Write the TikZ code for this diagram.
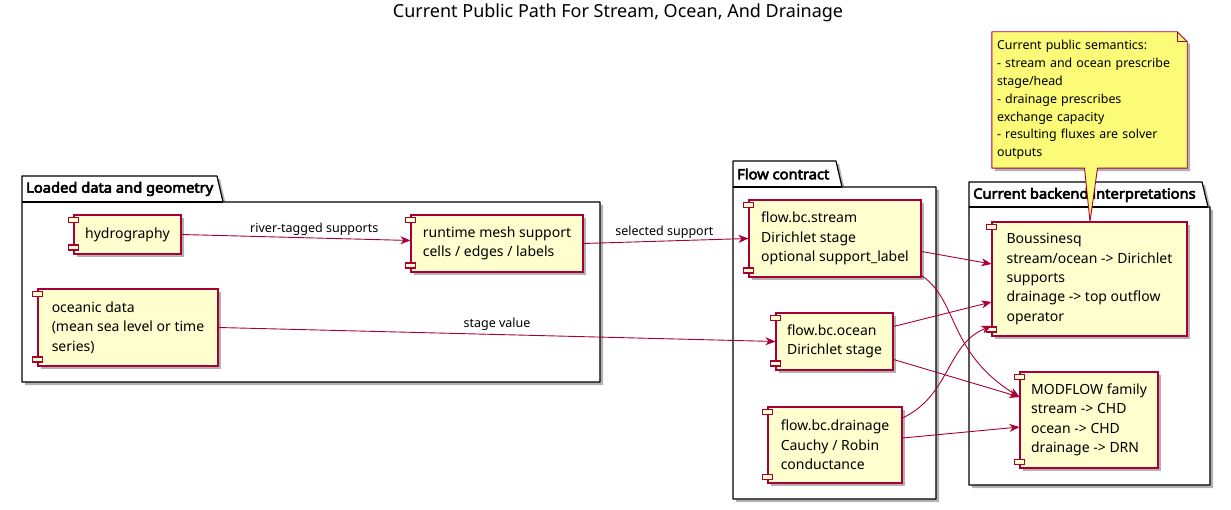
\documentclass[tikz,border=0pt]{standalone}
\usepackage{fontspec}
\setmainfont{Noto Sans}
\newfontfamily\pkgfont{Noto Sans}[FakeBold=4, FakeStretch=1.05]
\usepackage{tikz}
\usetikzlibrary{arrows.meta,shadows}

\definecolor{umlred}{HTML}{A80036}
\definecolor{umlfill}{HTML}{FEFECE}
\definecolor{notefill}{HTML}{FBFB77}

\tikzset{
  shade3/.style={drop shadow={shadow xshift=3pt, shadow yshift=-3pt, opacity=0.3, fill=black}},
  comp/.style={draw=umlred, fill=umlfill, line width=1.1pt, align=left, inner sep=0pt,
               font=\fontsize{14}{19.4}\selectfont, shade3},
  compicon/.style={draw=umlred, fill=umlfill, line width=1.1pt},
  pkg/.style={draw=black, fill=white, line width=1.2pt, line join=round, shade3},
  pkgtitle/.style={font=\pkgfont\fontsize{14}{16}\selectfont, anchor=west, inner sep=0pt},
  flow/.style={draw=umlred, line width=0.9pt, -{Stealth[length=10pt, width=8pt, inset=3pt]}},
  lbl/.style={font=\fontsize{12.5}{15}\selectfont, anchor=south, inner sep=2pt, text=black},
}

\begin{document}
\begin{tikzpicture}[x=1pt, y=-1pt]
  \useasboundingbox (0,0) rectangle (1231,510);
  \node[font=\fontsize{18}{22}\selectfont] (title) at (618,13) {Current Public Path For Stream, Ocean, And Drainage};

  % packages
  \draw[pkg] (22,176) -- (217,176) -- (223,202) -- (600,202) -- (600,382) -- (22,382) -- cycle;
  \draw[line width=1.2pt] (22,202) -- (223,202);
  \node[pkgtitle] (pkgload) at (26,189) {Loaded data and geometry};

  \draw[pkg] (733,161) -- (836,161) -- (842,187) -- (936,187) -- (936,499) -- (733,499) -- cycle;
  \draw[line width=1.2pt] (733,187) -- (842,187);
  \node[pkgtitle] (pkgflow) at (737,174) {Flow contract};

  \draw[pkg] (969,182) -- (1202,182) -- (1208,207) -- (1210,207) -- (1210,485) -- (969,485) -- cycle;
  \draw[line width=1.2pt] (969,207) -- (1208,207);
  \node[pkgtitle] (pkgback) at (973,195) {Current backend interpretations};

  % components
  \node[comp, minimum width=107, minimum height=39] (hydro) at (127.5,234.5) {hydrography};
  \node[comp, minimum width=172, minimum height=57] (mesh) at (497,243.5) {runtime mesh support\\cells / edges / labels};
  \node[comp, minimum width=180, minimum height=77] (ocdata) at (128,327.5) {oceanic data\\(mean sea level or time\\series)};
  \node[comp, minimum width=172, minimum height=77] (stream) at (835,238.5) {flow.bc.stream\\Dirichlet stage\\optional support\_label};
  \node[comp, minimum width=117, minimum height=57] (ocean) at (834.5,341.5) {flow.bc.ocean\\Dirichlet stage};
  \node[comp, minimum width=134, minimum height=76] (drain) at (835,445) {flow.bc.drainage\\Cauchy / Robin\\conductance};
  \node[comp, minimum width=195, minimum height=114] (bous) at (1089.5,279) {Boussinesq\\stream/ocean -> Dirichlet\\supports\\drainage -> top outflow\\operator};
  \node[comp, minimum width=138, minimum height=96] (modflow) at (1089,420) {MODFLOW family\\stream -> CHD\\ocean -> CHD\\drainage -> DRN};

  \foreach \n in {hydro,mesh,ocdata,stream,ocean,drain,bous,modflow} {
    \draw[compicon] ([xshift=-5pt,yshift=-3pt]\n.north west) rectangle ++(10,5);
    \draw[compicon] ([xshift=-5pt,yshift=4.5pt]\n.south west) rectangle ++(10,-5);
  }

  % connectors
  \draw[flow] (hydro.east) -- node[lbl, pos=0.58] (lblriver) {river-tagged supports} ([yshift=3pt]mesh.west);
  \draw[flow] (mesh.east) -- node[lbl, pos=0.49] (lblsel) {selected support} (stream.west);
  \draw[flow] (ocdata.east) -- node[lbl, pos=0.5, yshift=2pt] (lblstage) {stage value} (ocean.west);
  \draw[flow] ([yshift=-13pt]stream.east) -- ([yshift=15pt]bous.west);
  \draw[flow] ([yshift=2pt]stream.south east) .. controls +(37,25) and +(-72,-45) .. ([yshift=23pt]modflow.west);
  \draw[flow] ([yshift=15pt]ocean.east) -- ([yshift=-23pt]bous.west);
  \draw[flow] ([yshift=-18pt]ocean.east) -- ([yshift=23pt]modflow.west);
  \draw[flow] ([yshift=27pt]drain.east) .. controls +(48,-23) and +(-45,18) .. ([yshift=-47pt]bous.west);
  \draw[flow] ([yshift=7pt]drain.east) -- ([yshift=-7pt]modflow.west);

  % note
  \node[minimum width=195pt, minimum height=136pt, inner sep=0pt] (note) at (1089.5,100) {};
  \fill[black, opacity=0.3] ([xshift=3pt,yshift=-3pt]note.north west) -- ([xshift=-7pt,yshift=-3pt]note.north east)
    -- ([xshift=3pt,yshift=-13pt]note.north east) -- ([xshift=3pt,yshift=-3pt]note.south east)
    -- ([xshift=3pt,yshift=-3pt]note.south west) -- cycle;
  \filldraw[draw=umlred, fill=notefill, line width=0.9pt, line join=round]
    (note.north west) -- ([xshift=-10pt]note.north east) -- ([yshift=-10pt]note.north east)
    -- (note.south east) -- ([xshift=8pt]note.south) -- ([xshift=0.5pt]bous.north)
    -- ([xshift=-5pt]note.south) -- (note.south west) -- cycle;
  \draw[draw=umlred, line width=0.9pt, line join=round]
    ([xshift=-10pt]note.north east) -- ([xshift=-10pt,yshift=-10pt]note.north east) -- ([yshift=-10pt]note.north east);
  \node[text width=185pt, minimum height=136pt, inner xsep=5pt, inner ysep=0pt, align=left,
        font=\fontsize{12.4}{17.8}\selectfont] (notetext) at (note.center)
        {Current public semantics:\\- stream and ocean prescribe\\stage/head\\- drainage prescribes\\exchange capacity\\- resulting fluxes are solver\\outputs};
\end{tikzpicture}
\end{document}
